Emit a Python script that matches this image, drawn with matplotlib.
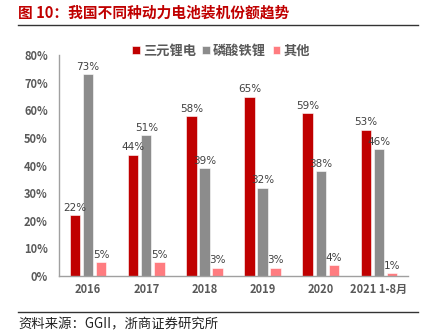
import matplotlib.pyplot as plt
import numpy as np
from matplotlib.lines import Line2D

plt.rcParams['font.family'] = ['Noto Sans CJK SC', 'DejaVu Sans']

categories = ['2016', '2017', '2018', '2019', '2020', '2021 1-8月']
ncm = [22, 44, 58, 65, 59, 53]
lfp = [73, 51, 39, 32, 38, 46]
other = [5, 5, 3, 3, 4, 1]
series_names = ['三元锂电', '磷酸铁锂', '其他']
colors = ['#C00000', '#8C8C8C', '#FF7C80']

fig = plt.figure(figsize=(4.23, 3.34), dpi=100)
ax = fig.add_axes([0.1395, 0.1737, 0.825, 0.6613])

x = np.arange(len(categories))
w = 0.18
gap = 0.225
for i, (vals, c) in enumerate(zip([ncm, lfp, other], colors)):
    pos = x + (i - 1) * gap
    ax.bar(pos, np.array(vals) / 100, width=w, color=c, edgecolor='white', linewidth=0.4, label=series_names[i])
    for p, v in zip(pos, vals):
        ax.text(p, v / 100 + 0.008, f'{v}%', ha='center', va='bottom', fontsize=7.5,
                color='#404040', family='DejaVu Sans')

ax.set_xlim(-0.5, len(categories) - 0.5)
ax.set_ylim(0, 0.8)
ax.set_yticks(np.arange(0, 0.81, 0.1))
ax.set_yticklabels([f'{int(round(t*100))}%' for t in np.arange(0, 0.81, 0.1)])
ax.set_xticks(x)
ax.set_xticklabels(categories)
ax.tick_params(axis='both', length=0, labelsize=8, colors='#595959')
for lab in ax.get_yticklabels() + ax.get_xticklabels():
    lab.set_fontweight('bold')
ax.tick_params(axis='y', pad=8)
ax.tick_params(axis='x', pad=5)
for s in ['top', 'right']:
    ax.spines[s].set_visible(False)
for s in ['left', 'bottom']:
    ax.spines[s].set_color('#A0A0A0')
    ax.spines[s].set_linewidth(1.0)

leg = ax.legend(loc='center left', bbox_to_anchor=(0.21, 1.018), ncol=3, frameon=False,
                handlelength=0.55, handleheight=0.55, handletextpad=0.25, columnspacing=0.5,
                fontsize=9.5, borderaxespad=0, borderpad=0)
for t in leg.get_texts():
    t.set_color('#595959')
    t.set_fontweight('bold')

fig.text(0.043, 0.962, '图 10：我国不同种动力电池装机份额趋势', fontsize=10.6, color='#C00000',
         fontweight='bold', va='center', ha='left')
fig.add_artist(Line2D([0.043, 0.988], [0.925, 0.925], color='#333333', linewidth=1.0))
fig.add_artist(Line2D([0.043, 0.988], [0.066, 0.066], color='#333333', linewidth=1.0))
fig.text(0.043, 0.028, '资料来源：GGII，浙商证券研究所', fontsize=9.6, color='#222222',
         va='center', ha='left')

fig.savefig('out.png', dpi=100)
